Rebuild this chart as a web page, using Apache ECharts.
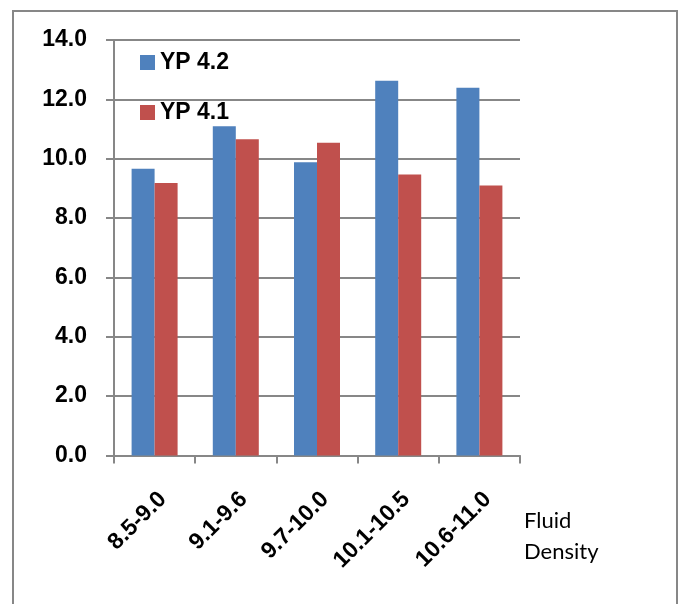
<!DOCTYPE html>
<html>
<head>
<meta charset="utf-8">
<script src="https://cdn.jsdelivr.net/npm/echarts@6/dist/echarts.min.js"></script>
<style>
  html, body { margin: 0; padding: 0; background: #fff; }
  #chart { width: 681px; height: 604px; }
</style>
</head>
<body>
<div id="chart"></div>
<script>
// Fluid density ranges and yield point readings for two mud formulations
const categories = ['8.5-9.0', '9.1-9.6', '9.7-10.0', '10.1-10.5', '10.6-11.0'];
const yp42 = [9.66, 11.09, 9.88, 12.63, 12.39];
const yp41 = [9.18, 10.66, 10.54, 9.47, 9.10];
const seriesNames = ['YP 4.2', 'YP 4.1'];
const xAxisTitle = 'Fluid\nDensity';

const chart = echarts.init(document.getElementById('chart'));
const labelFont = '"Liberation Sans", Arial, sans-serif';
const lineGray = '#878787';

chart.setOption({
  animation: false,
  backgroundColor: '#fff',
  graphic: [
    {
      type: 'rect',
      shape: { x: 13, y: 11, width: 664, height: 620 },
      style: { fill: 'none', stroke: lineGray, lineWidth: 2 },
      z: -1
    },
    {
      type: 'text',
      left: 524,
      top: 505,
      style: {
        text: xAxisTitle,
        font: '22px Lato, "Open Sans", sans-serif',
        fill: '#000',
        lineHeight: 31
      }
    }
  ],
  legend: {
    orient: 'vertical',
    left: 135,
    top: 46,
    itemWidth: 15,
    itemHeight: 15,
    itemGap: 27,
    icon: 'rect',
    textStyle: { fontFamily: labelFont, fontWeight: 'bold', fontSize: 23, color: '#000', padding: [0, 0, 0, 0] },
    data: seriesNames
  },
  grid: { left: 114, right: 161, top: 40, bottom: 148.5, containLabel: false },
  xAxis: {
    type: 'category',
    data: categories,
    axisLine: { lineStyle: { color: lineGray, width: 2 } },
    axisTick: { show: true, alignWithLabel: false, length: 8, lineStyle: { color: lineGray, width: 2 } },
    axisLabel: {
      rotate: 45,
      margin: 32,
      align: 'right',
      verticalAlign: 'top',
      fontFamily: labelFont,
      fontWeight: 'bold',
      fontSize: 23,
      color: '#000'
    }
  },
  yAxis: {
    type: 'value',
    min: 0,
    max: 14,
    interval: 2,
    axisLine: { show: true, lineStyle: { color: lineGray, width: 2 } },
    axisTick: { show: true, length: 8, lineStyle: { color: lineGray, width: 2 } },
    splitLine: { lineStyle: { color: lineGray, width: 2 } },
    axisLabel: {
      margin: 27,
      formatter: v => v.toFixed(1),
      fontFamily: labelFont,
      fontWeight: 'bold',
      fontSize: 23,
      color: '#000'
    }
  },
  series: [
    {
      name: seriesNames[0],
      type: 'bar',
      data: yp42,
      barWidth: 23,
      barGap: '0%',
      itemStyle: { color: '#4F81BD' }
    },
    {
      name: seriesNames[1],
      type: 'bar',
      data: yp41,
      barWidth: 23,
      barGap: '0%',
      itemStyle: { color: '#C0504D' }
    }
  ]
});
</script>
</body>
</html>
